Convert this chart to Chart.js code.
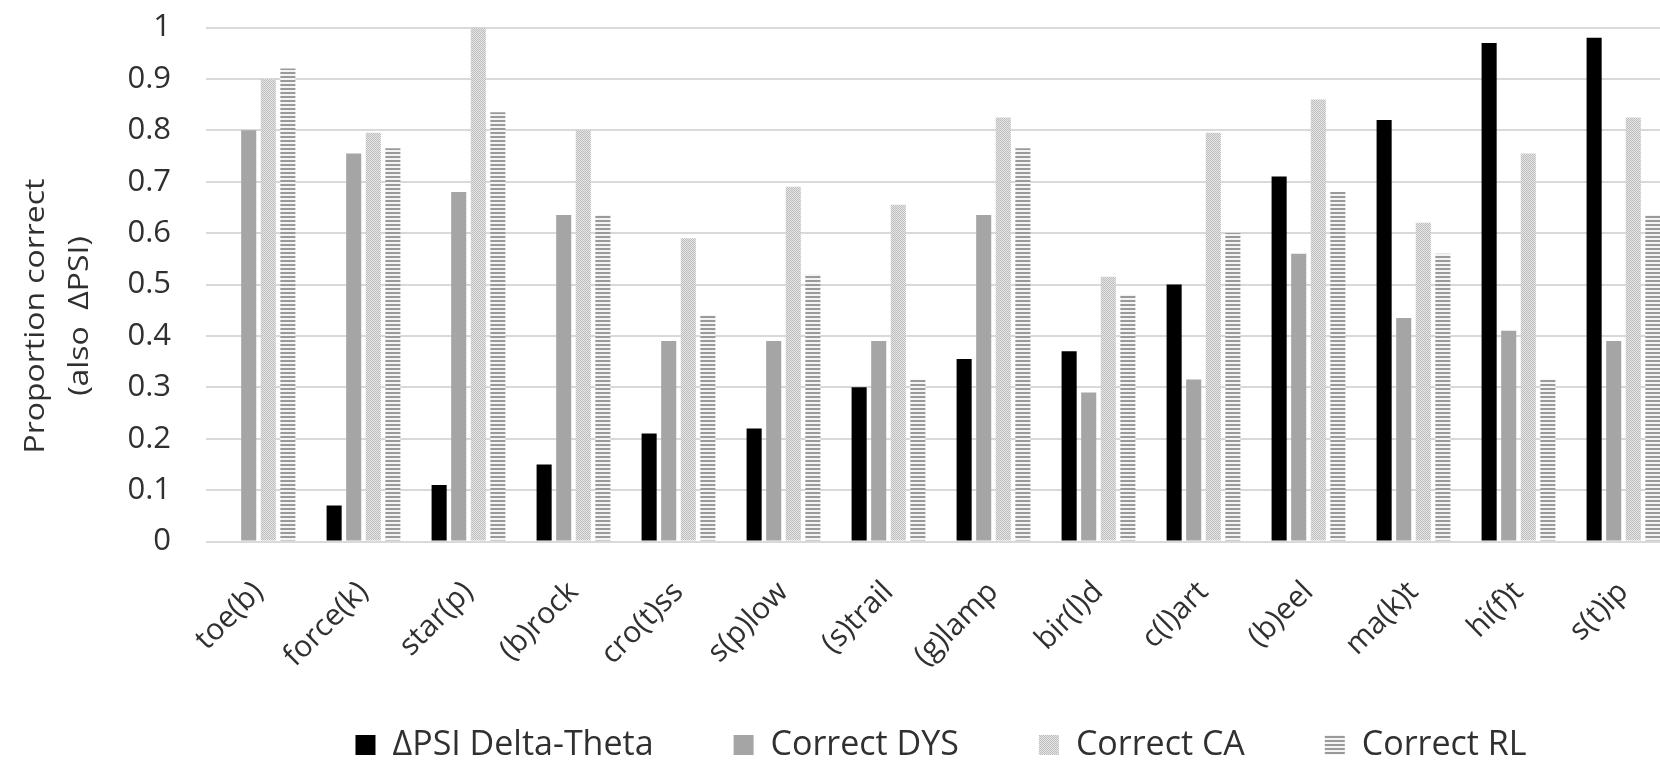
<!DOCTYPE html>
<html>
<head>
<meta charset="utf-8">
<script src="https://cdn.jsdelivr.net/npm/chart.js@4.4.1/dist/chart.umd.min.js"></script>
<style>
  html, body { margin: 0; padding: 0; background: #fff; overflow: hidden; }
  #wrap { position: relative; width: 1690px; height: 772px; }
</style>
</head>
<body>
<div id="wrap"><canvas id="chart"></canvas></div>
<script>
'use strict';

// words (the bracketed phoneme is the one tested)
const words = ['toe(b)', 'force(k)', 'star(p)', '(b)rock', 'cro(t)ss', 's(p)low', '(s)trail',
  '(g)lamp', 'bir(l)d', 'c(l)art', '(b)eel', 'ma(k)t', 'hi(f)t', 's(t)ip'];

// values
const deltaPsi   = [0, 0.07, 0.11, 0.15, 0.21, 0.22, 0.30, 0.355, 0.37, 0.50, 0.71, 0.82, 0.97, 0.98];
const correctDys = [0.80, 0.755, 0.68, 0.635, 0.39, 0.39, 0.39, 0.635, 0.29, 0.315, 0.56, 0.435, 0.41, 0.39];
const correctCa  = [0.90, 0.795, 1.0, 0.80, 0.59, 0.69, 0.655, 0.825, 0.515, 0.795, 0.86, 0.62, 0.755, 0.825];
const correctRl  = [0.92, 0.765, 0.835, 0.635, 0.44, 0.52, 0.315, 0.765, 0.48, 0.60, 0.68, 0.56, 0.315, 0.635];

const seriesNames = ['\u0394PSI Delta-Theta', 'Correct DYS', 'Correct CA', 'Correct RL'];
const yTitle = ['Proportion correct', '(also  \u0394PSI)'];

const FONT = "'Open Sans', 'Noto Sans', sans-serif";
const TEXT = '#303030';

// little fill patterns like the excel ones
function dotPattern() {
  const c = document.createElement('canvas');
  c.width = 2; c.height = 2;
  const g = c.getContext('2d');
  g.fillStyle = '#e6e6e6';
  g.fillRect(0, 0, 2, 2);
  g.fillStyle = '#bdbdbd';
  g.fillRect(0, 0, 1, 1);
  g.fillRect(1, 1, 1, 1);
  return g.createPattern(c, 'repeat');
}

function stripePattern() {
  const c = document.createElement('canvas');
  c.width = 1; c.height = 4;
  const g = c.getContext('2d');
  g.fillStyle = '#f4f4f4';
  g.fillRect(0, 0, 1, 4);
  g.fillStyle = '#9a9a9a';
  g.fillRect(0, 0, 1, 2);
  return g.createPattern(c, 'repeat');
}

// y title is drawn by hand, excel puts it a bit lower than the middle of the axis
const yTitlePlugin = {
  id: 'yTitleHand',
  afterDraw(chart) {
    const ctx = chart.ctx;
    ctx.save();
    ctx.fillStyle = TEXT;
    ctx.font = '28px ' + FONT;
    ctx.textAlign = 'center';
    ctx.textBaseline = 'middle';
    ctx.translate(0, 316);
    ctx.rotate(-Math.PI / 2);
    ctx.scale(1.14, 1);
    ctx.fillText(yTitle[0], 0, 36);
    ctx.fillText(yTitle[1], 0, 80);
    ctx.restore();
  }
};

const barOpts = { categoryPercentage: 0.746, barPercentage: 0.77, borderWidth: 0 };

new Chart(document.getElementById('chart'), {
  type: 'bar',
  data: {
    labels: words,
    datasets: [
      { label: seriesNames[0], data: deltaPsi, backgroundColor: '#000000', ...barOpts },
      { label: seriesNames[1], data: correctDys, backgroundColor: '#a5a5a5', ...barOpts },
      { label: seriesNames[2], data: correctCa, backgroundColor: dotPattern(), ...barOpts },
      { label: seriesNames[3], data: correctRl, backgroundColor: stripePattern(), ...barOpts }
    ]
  },
  options: {
    responsive: true,
    maintainAspectRatio: false,
    animation: false,
    layout: { padding: { left: 126, top: 27.5, right: 14, bottom: 0 } },
    plugins: {
      legend: {
        position: 'bottom',
        fullSize: false,
        labels: {
          boxWidth: 20,
          boxHeight: 20,
          padding: 80,
          color: TEXT,
          font: { family: FONT, size: 34 }
        }
      },
      tooltip: { enabled: false }
    },
    scales: {
      x: {
        grid: { display: false },
        border: { display: false },
        ticks: {
          autoSkip: false,
          minRotation: 45,
          maxRotation: 45,
          padding: 25,
          color: TEXT,
          font: { family: FONT, size: 30 }
        },
        afterFit(scale) {
          scale.height = 106.5;
          // the labels run down past the axis box, don't clip them
          scale._computeLabelArea = () => undefined;
        }
      },
      y: {
        min: 0,
        max: 1,
        // invisible tick marks make the gap, so the top of the axis is not pushed down
        grid: { color: '#d9d9d9', lineWidth: 2, drawTicks: true, tickLength: 35, tickColor: 'rgba(0,0,0,0)' },
        border: { display: false },
        ticks: {
          stepSize: 0.1,
          padding: 0,
          color: TEXT,
          font: { family: FONT, size: 31 },
          callback: (v) => String(Math.round(v * 10) / 10)
        },
        afterFit(scale) { scale.width = 80; }
      }
    }
  },
  plugins: [yTitlePlugin]
});
</script>
</body>
</html>
